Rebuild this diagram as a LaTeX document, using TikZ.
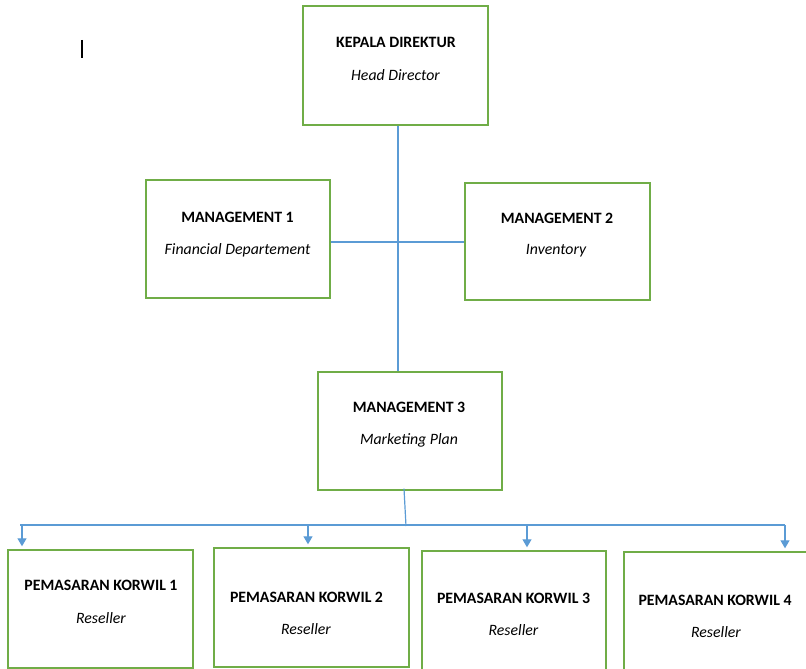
\documentclass[tikz,border=0pt]{standalone}
\usepackage{fontspec}
\setmainfont{Carlito}
\usepackage{xcolor}
\usepackage{tikz}
\usetikzlibrary{arrows.meta, positioning}

\definecolor{boxgreen}{RGB}{112,173,71}
\definecolor{linkblue}{RGB}{91,155,213}

\begin{document}
\begin{tikzpicture}[
  x=1pt, y=-1pt,
  box/.style={rectangle, draw=boxgreen, line width=1.4pt, inner sep=0pt},
  ttl/.style={font=\fontsize{15.8}{18}\selectfont\bfseries, inner sep=0pt},
  sub/.style={font=\fontsize{15.8}{18}\selectfont\itshape, inner sep=0pt},
  link/.style={draw=linkblue, line width=1.2pt},
  arr/.style={link, -{Triangle[width=9pt,length=8pt]}}
]
\useasboundingbox (0,0) rectangle (806,669);

% Top level
\node[box, minimum width=185pt, minimum height=119pt] (head) at (395.5,65.5) {};
\node[ttl] (head-t) at (396,42) {KEPALA DIREKTUR};
\node[sub] (head-s) at (395.5,75) {Head Director};

% Management row
\node[box, minimum width=184pt, minimum height=118pt] (m1) at (238,239) {};
\node[ttl] (m1-t) at (237.5,217) {MANAGEMENT 1};
\node[sub] (m1-s) at (237.5,250) {Financial Departement};

\node[box, minimum width=185pt, minimum height=117pt] (m2) at (557.5,241.5) {};
\node[ttl] (m2-t) at (557,218) {MANAGEMENT 2};
\node[sub] (m2-s) at (556,251) {Inventory};

\node[box, minimum width=184pt, minimum height=118pt] (m3) at (410,431) {};
\node[ttl] (m3-t) at (409,407) {MANAGEMENT 3};
\node[sub] (m3-s) at (409,440) {Marketing Plan};

% Korwil row
\node[box, minimum width=185pt, minimum height=118pt] (k1) at (100.5,609) {};
\node[ttl] (k1-t) at (101,585) {PEMASARAN KORWIL 1};
\node[sub] (k1-s) at (101,618) {Reseller};

\node[box, minimum width=195pt, minimum height=119pt] (k2) at (311.5,607.5) {};
\node[ttl] (k2-t) at (306.5,597) {PEMASARAN KORWIL 2};
\node[sub] (k2-s) at (306,629) {Reseller};

\node[box, minimum width=184pt, minimum height=140pt] (k3) at (514,621) {};
\node[ttl] (k3-t) at (513.5,598) {PEMASARAN KORWIL 3};
\node[sub] (k3-s) at (513.5,630) {Reseller};

\node[box, minimum width=190pt, minimum height=140pt] (k4) at (719,622) {};
\node[ttl] (k4-t) at (715,600) {PEMASARAN KORWIL 4};
\node[sub] (k4-s) at (716,632) {Reseller};

% Connectors
\coordinate (hub) at (398,242);
\coordinate (bus) at (406,525);
\coordinate (busL) at (20,525);
\coordinate (busR) at (785,525);

\draw[link] (hub |- head.south) -- (hub |- m3.north);
\draw[link] (m1.east |- hub) -- (m2.west |- hub);
\draw[link] ([xshift=-6pt,yshift=2pt]m3.south) -- ([yshift=-1pt]bus);
\draw[link] (busL) -- (busR);
\draw[arr] (22,525) -- ([yshift=3pt]k1.north -| 22,0);
\draw[arr] (308,525) -- ([yshift=3pt]k2.north -| 308,0);
\draw[arr] (527,525) -- ([yshift=3pt]k3.north -| 527,0);
\draw[arr] (busR) -- ([yshift=3pt]k4.north -| busR);

% text cursor
\draw[line width=1.2pt] (82,40) -- (82,58);
\end{tikzpicture}
\end{document}
